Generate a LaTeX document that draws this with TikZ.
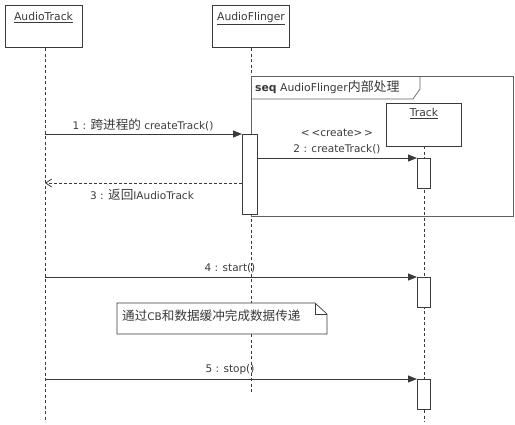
\documentclass[tikz,border=0pt]{standalone}
\usepackage{fontspec}
\setmainfont{DejaVu Sans}[Ligatures=NoCommon]
\newfontfamily\cjk[Scale=1.2]{Noto Sans CJK SC}
\usetikzlibrary{arrows.meta}
\definecolor{ink}{HTML}{3A3A3A}
\tikzset{
  objbox/.style={draw=ink, line width=1.3pt, fill=white, minimum width=77pt, minimum height=42pt, inner sep=0pt},
  objlabel/.style={text=ink, font=\fontsize{10.8}{12}\selectfont, inner sep=0pt},
  life/.style={draw=ink, line width=0.7pt, dash pattern=on 3pt off 2.5pt},
  act/.style={draw=ink, line width=0.7pt, fill=white},
  msg/.style={draw=ink, line width=0.8pt, -{Triangle[length=9pt,width=7pt]}},
  ret/.style={draw=ink, line width=0.8pt, dash pattern=on 3pt off 2pt, -{Straight Barb[length=6pt,width=8pt]}},
  msglabel/.style={text=ink, font=\fontsize{10.5}{12}\selectfont, inner sep=0pt},
  framebox/.style={draw=ink!80, line width=0.7pt},
}
\begin{document}
\begin{tikzpicture}[x=1pt,y=-1pt]
\useasboundingbox (0,0) rectangle (515,424);
% objects
\node[objbox, anchor=north west] (at) at (5,5) {};
\node[objlabel, anchor=north] (atl) at (43.5,12) {\underline{AudioTrack}};
\node[objbox, anchor=north west] (af) at (212,5) {};
\node[objlabel, anchor=north] (afl) at (251,12) {\underline{AudioFlinger}};
% lifelines
\coordinate (atend) at (45,422);
\coordinate (afend) at (251,394);
\draw[life] (45,48) -- (atend);
\draw[life] (251,48) -- (afend);
% frame
\draw[framebox] (251,76) rectangle (513,216);
\draw[framebox] (251,99) -- (413,99) -- (420,89) -- (420,76);
\node[objlabel, anchor=west] (seq) at (255,87.5) {\textbf{seq} AudioFlinger{\cjk 内部处理}};
% Track object
\node[draw=ink, line width=0.7pt, fill=white, minimum width=75pt, minimum height=43pt, inner sep=0pt, anchor=north west] (tr) at (386,103) {};
\node[objlabel, anchor=north] (trl) at (424,108) {\underline{Track}};
\coordinate (trend) at (424,422);
\draw[life] (424,146) -- (trend);
% activations
\node[act, anchor=north west, minimum width=15pt, minimum height=80pt, inner sep=0pt] (afact) at (242,134) {};
\node[act, anchor=north west, minimum width=13pt, minimum height=30pt, inner sep=0pt] (tract1) at (417,158) {};
\node[act, anchor=north west, minimum width=13pt, minimum height=30pt, inner sep=0pt] (tract2) at (417,277) {};
\node[act, anchor=north west, minimum width=13pt, minimum height=30pt, inner sep=0pt] (tract3) at (417,379) {};
% messages
\coordinate (m1s) at (45,134);
\draw[msg] (m1s) -- (afact.north west);
\node[msglabel, anchor=south] (l1) at (143,131) {1 : {\cjk 跨进程的} createTrack()};
\coordinate (m2s) at (257,158);
\draw[msg] (m2s) -- (tract1.north west);
\node[msglabel, anchor=south] (l2a) at (337,137) {{<}\,{<}create{>}\,{>}};
\node[msglabel, anchor=south] (l2b) at (337,154) {2 : createTrack()};
\coordinate (m3e) at (45,183);
\draw[ret] (242,183) -- (m3e);
\node[msglabel, anchor=north] (l3) at (142,189) {3 : {\cjk 返回}IAudioTrack};
\coordinate (m4s) at (45,277);
\draw[msg] (m4s) -- (tract2.north west);
\node[msglabel, anchor=south] (l4) at (230,273) {4 : start()};
\coordinate (m5s) at (45,379);
\draw[msg] (m5s) -- (tract3.north west);
\node[msglabel, anchor=south] (l5) at (230,375) {5 : stop()};
% note
\draw[draw=ink, line width=0.7pt, fill=white] (117,303) -- (315,303) -- (327,314) -- (327,334) -- (117,334) -- cycle;
\draw[draw=ink, line width=0.7pt] (315,303) -- (315,314) -- (327,314);
\node[msglabel, anchor=west] (note) at (122,316) {{\cjk 通过}CB{\cjk 和数据缓冲完成数据传递}};
\end{tikzpicture}
\end{document}
